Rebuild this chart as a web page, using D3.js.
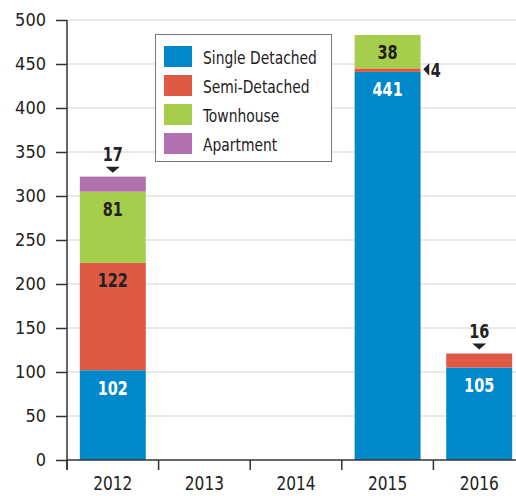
<!DOCTYPE html>
<html>
<head>
<meta charset="utf-8">
<script src="https://cdn.jsdelivr.net/npm/d3@7"></script>
<style>
  html, body { margin: 0; padding: 0; background: #fff; }
  svg { display: block; }
  text { font-family: "DejaVu Sans Condensed", "DejaVu Sans", sans-serif; }
</style>
</head>
<body>
<svg id="chart" width="516" height="496"></svg>
<script>
const years = ["2012", "2013", "2014", "2015", "2016"];
const seriesNames = ["Single Detached", "Semi-Detached", "Townhouse", "Apartment"];
const singleDetached = [102, 0, 0, 441, 105];
const semiDetached = [122, 0, 0, 4, 16];
const townhouse = [81, 0, 0, 38, 0];
const apartment = [17, 0, 0, 0, 0];
const colors = ["#0088cb", "#de5a44", "#a6ce4c", "#b170ae"];
const yTicks = [0, 50, 100, 150, 200, 250, 300, 350, 400, 450, 500];

const seriesValues = [singleDetached, semiDetached, townhouse, apartment];
const rows = years.map((y, i) => {
  const r = { year: y };
  seriesNames.forEach((s, k) => r[s] = seriesValues[k][i]);
  return r;
});

const svg = d3.select("#chart");
const x0 = 67, x1 = 525, yBottom = 460, yTop = 20;
const x = d3.scaleBand().domain(years).range([x0, x1]).paddingInner(0.28).paddingOuter(0.14);
const y = d3.scaleLinear().domain([0, 500]).range([yBottom, yTop]);

function sText(g, px, py, str, o) {
  return g.append("text")
    .attr("transform", `translate(${px},${py}) scale(${o.sx || 1},1)`)
    .attr("text-anchor", o.anchor || "start")
    .attr("font-size", o.size)
    .attr("font-weight", o.weight || "normal")
    .attr("fill", o.fill || "#222")
    .text(str);
}

// gridlines
svg.append("g").selectAll("line").data(yTicks.filter(t => t > 0)).join("line")
  .attr("x1", x0).attr("x2", 516)
  .attr("y1", d => y(d)).attr("y2", d => y(d))
  .attr("stroke", "#e2e2e2").attr("stroke-width", 1.5);

// stacked bars
const stack = d3.stack().keys(seriesNames)(rows);
const layers = svg.append("g").selectAll("g").data(stack).join("g")
  .attr("fill", (d, i) => colors[i]);
layers.selectAll("rect").data(d => d).join("rect")
  .attr("x", d => x(d.data.year))
  .attr("width", x.bandwidth())
  .attr("y", d => y(d[1]))
  .attr("height", d => y(d[0]) - y(d[1]));

// y axis
const yAxis = d3.axisLeft(y).tickValues(yTicks).tickSize(11).tickPadding(10);
const gy = svg.append("g").attr("transform", `translate(${x0},0)`).call(yAxis);
gy.select(".domain").remove();
gy.selectAll(".tick line").attr("stroke", "#333").attr("stroke-width", 1.5);
gy.selectAll(".tick text").attr("font-size", 18).attr("fill", "#222")
  .attr("font-family", "DejaVu Sans Condensed, DejaVu Sans, sans-serif");
svg.append("line").attr("x1", x0).attr("x2", x0).attr("y1", yTop).attr("y2", yBottom + 10)
  .attr("stroke", "#333").attr("stroke-width", 1.5);

// x axis
svg.append("line").attr("x1", x0).attr("x2", 516).attr("y1", yBottom).attr("y2", yBottom)
  .attr("stroke", "#333").attr("stroke-width", 1.5);
const step = x.step();
const boundaries = d3.range(years.length + 1).map(i => x0 + i * step);
svg.append("g").selectAll("line").data(boundaries).join("line")
  .attr("x1", d => d).attr("x2", d => d).attr("y1", yBottom).attr("y2", yBottom + 10)
  .attr("stroke", "#333").attr("stroke-width", 1.5);
const gx = svg.append("g");
years.forEach(yr => sText(gx, x(yr) + x.bandwidth() / 2, 490, yr, { size: 19, sx: 0.9, anchor: "middle" }));

// value labels
const labelG = svg.append("g");
const LBL = { size: 19.6, sx: 0.82, weight: "bold", anchor: "middle" };
stack.forEach((layer, k) => {
  layer.forEach(d => {
    const v = d[1] - d[0];
    if (v <= 0) return;
    const cx = x(d.data.year) + x.bandwidth() / 2;
    const h = y(d[0]) - y(d[1]);
    const fill = k === 0 ? "#fff" : "#222";
    if (h >= 30) {
      sText(labelG, cx, y(d[1]) + 24.5, v, Object.assign({}, LBL, { fill }));
    } else {
      const isTop = stack.slice(k + 1).every(l => {
        const e = l.find(z => z.data.year === d.data.year); return e[1] - e[0] === 0;
      });
      if (isTop) {
        const ty = y(d[1]);
        labelG.append("path")
          .attr("d", `M${cx - 7},${ty - 10}L${cx + 7},${ty - 10}L${cx},${ty - 4}Z`)
          .attr("fill", "#222");
        sText(labelG, cx, ty - 15.5, v, LBL);
      } else {
        const my = (y(d[0]) + y(d[1])) / 2;
        const rx = x(d.data.year) + x.bandwidth() + 2.7;
        labelG.append("path")
          .attr("d", `M${rx},${my - 0.8}L${rx + 6},${my - 7}L${rx + 6},${my + 5.5}Z`)
          .attr("fill", "#222");
        sText(labelG, rx + 7.5, my + 7, v, Object.assign({}, LBL, { anchor: "start" }));
      }
    }
  });
});

// legend
const lg = svg.append("g");
lg.append("rect").attr("x", 155.5).attr("y", 34.5).attr("width", 176).attr("height", 127)
  .attr("fill", "#fff").attr("stroke", "#777").attr("stroke-width", 1);
seriesNames.forEach((s, i) => {
  lg.append("rect").attr("x", 164).attr("y", 46 + i * 29).attr("width", 28).attr("height", 21)
    .attr("fill", colors[i]);
  sText(lg, 203, 63.5 + i * 29, s, { size: 17.8, sx: 0.866 });
});
</script>
</body>
</html>
